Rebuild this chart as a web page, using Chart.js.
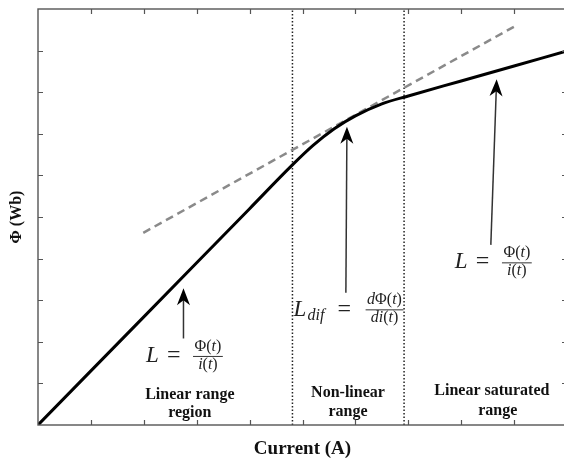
<!DOCTYPE html>
<html>
<head>
<meta charset="utf-8">
<script src="https://cdn.jsdelivr.net/npm/chart.js@4/dist/chart.umd.min.js"></script>
<style>
  html, body { margin: 0; padding: 0; background: #fff; overflow: hidden; }
  #wrap { width: 570px; height: 460px; }
</style>
</head>
<body>
<div id="wrap"><canvas id="c" width="570" height="460"></canvas></div>
<script>
// Magnetisation curve: flux linkage against current
const currentA = [0, 1, 2, 3, 4, 4.8, 5.2, 5.6, 6, 6.5, 7, 8, 9, 10];
const fluxWb   = [0, 1.3, 2.6, 3.9, 5.2, 6.24, 6.72, 7.12, 7.43, 7.72, 7.91, 8.27, 8.63, 8.99];

// Tangent (differential inductance) line through the knee
const tangentX = [1.99, 9.02];
const tangentY = [4.62, 9.59];

// Boundaries between the three operating ranges
const boundaryX = [4.81, 6.92];
const axisMin = 0, axisMax = 10;

// Arrows pointing at the curve: tip and tail in axis units
const arrowTipX  = [2.75, 5.84, 8.67];
const arrowTipY  = [3.29, 7.17, 8.31];
const arrowTailX = [2.75, 5.82, 8.56];
const arrowTailY = [2.08, 3.18, 4.33];

// Inductance formulas: left edge and centre line in axis units
const formulaX = [2.04, 4.83, 7.88];
const formulaY = [1.66, 2.78, 3.91];

// Range names
const rangeNames = [["Linear range", "region"], ["Non-linear", "range"], ["Linear saturated", "range"]];
const rangeX = [[2.87, 2.87], [5.86, 5.86], [8.58, 8.69]];
const rangeY = [[0.72, 0.28], [0.77, 0.31], [0.81, 0.35]];

const pts = (xs, ys) => xs.map((x, i) => ({ x, y: ys[i] }));

const SERIF = '"Liberation Serif", "Times New Roman", serif';

function drawRuns(ctx, runs, x, y) {
  // runs: [text, fontString]
  let cx = x;
  for (const [t, f] of runs) {
    ctx.font = f;
    ctx.fillText(t, cx, y);
    cx += ctx.measureText(t).width;
  }
  return cx - x;
}
function runsWidth(ctx, runs) {
  let w = 0;
  for (const [t, f] of runs) { ctx.font = f; w += ctx.measureText(t).width; }
  return w;
}
function drawFraction(ctx, num, den, cx, cy) {
  const wn = runsWidth(ctx, num), wd = runsWidth(ctx, den);
  const w = Math.max(wn, wd) + 3;
  drawRuns(ctx, num, cx - wn / 2, cy - 5);
  drawRuns(ctx, den, cx - wd / 2, cy + 13);
  ctx.save();
  ctx.lineWidth = 1;
  ctx.strokeStyle = '#333';
  ctx.beginPath();
  ctx.moveTo(cx - w / 2, cy + 0.5);
  ctx.lineTo(cx + w / 2, cy + 0.5);
  ctx.stroke();
  ctx.restore();
}

const decorPlugin = {
  id: 'decor',
  afterDatasetsDraw(chart) {
    const { ctx, chartArea: a, scales: { x, y } } = chart;
    ctx.save();

    // frame
    ctx.strokeStyle = '#555';
    ctx.lineWidth = 1.4;
    ctx.strokeRect(a.left, a.top, a.right - a.left, a.bottom - a.top);

    // inward ticks on every side
    const tl = 5;
    ctx.beginPath();
    for (let v = axisMin + 1; v < axisMax; v++) {
      const px = Math.round(x.getPixelForValue(v)) + 0.5;
      ctx.moveTo(px, a.bottom); ctx.lineTo(px, a.bottom - tl);
      ctx.moveTo(px, a.top); ctx.lineTo(px, a.top + tl);
      const py = Math.round(y.getPixelForValue(v)) + 0.5;
      ctx.moveTo(a.left, py); ctx.lineTo(a.left + tl, py);
      ctx.moveTo(a.right, py); ctx.lineTo(a.right - tl, py);
    }
    ctx.lineWidth = 1.2;
    ctx.stroke();

    // arrows
    for (let i = 0; i < arrowTipX.length; i++) {
      const tx = x.getPixelForValue(arrowTipX[i]), ty = y.getPixelForValue(arrowTipY[i]);
      const bx = x.getPixelForValue(arrowTailX[i]), by = y.getPixelForValue(arrowTailY[i]);
      const ang = Math.atan2(by - ty, bx - tx);
      const ux = Math.cos(ang), uy = Math.sin(ang);
      const nx = -uy, ny = ux;
      ctx.strokeStyle = '#333';
      ctx.lineWidth = 1.5;
      ctx.beginPath();
      ctx.moveTo(tx + ux * 10, ty + uy * 10);
      ctx.lineTo(bx, by);
      ctx.stroke();
      const L = 17, H = 6.5, N = 12;
      ctx.fillStyle = '#000';
      ctx.beginPath();
      ctx.moveTo(tx, ty);
      ctx.lineTo(tx + ux * L + nx * H, ty + uy * L + ny * H);
      ctx.lineTo(tx + ux * N, ty + uy * N);
      ctx.lineTo(tx + ux * L - nx * H, ty + uy * L - ny * H);
      ctx.closePath();
      ctx.fill();
    }

    // formulas
    const big = `italic 23px ${SERIF}`, bigUp = `24px ${SERIF}`;
    const sm = `16px ${SERIF}`, smI = `italic 16px ${SERIF}`;
    const sub = `italic 16px ${SERIF}`;
    ctx.fillStyle = '#222';
    ctx.textBaseline = 'alphabetic';
    ctx.textAlign = 'left';
    const numL = [['Φ(', sm], ['t', smI], [')', sm]];
    const denL = [['i', smI], ['(', sm], ['t', smI], [')', sm]];
    [0, 2].forEach(i => {
      const lx = x.getPixelForValue(formulaX[i]), ay = y.getPixelForValue(formulaY[i]);
      drawRuns(ctx, [['L', big]], lx, ay + 6);
      drawRuns(ctx, [['=', bigUp]], lx + 21, ay + 6);
      drawFraction(ctx, numL, denL, lx + 62, ay);
    });
    {
      const lx = x.getPixelForValue(formulaX[1]), ay = y.getPixelForValue(formulaY[1]);
      drawRuns(ctx, [['L', big]], lx, ay + 7);
      drawRuns(ctx, [['dif', sub]], lx + 14, ay + 11);
      drawRuns(ctx, [['=', bigUp]], lx + 44, ay + 7);
      drawFraction(ctx,
        [['d', smI], ['Φ(', sm], ['t', smI], [')', sm]],
        [['di', smI], ['(', sm], ['t', smI], [')', sm]],
        lx + 91, ay);
    }

    // range names
    ctx.fillStyle = '#111';
    ctx.textAlign = 'center';
    ctx.textBaseline = 'middle';
    ctx.font = `bold 16px ${SERIF}`;
    rangeNames.forEach((lines, i) => {
      lines.forEach((t, j) => {
        ctx.fillText(t, x.getPixelForValue(rangeX[i][j]), y.getPixelForValue(rangeY[i][j]));
      });
    });
    ctx.restore();
  }
};

const datasets = [
  {
    data: pts(currentA, fluxWb),
    borderColor: '#000',
    borderWidth: 3,
    pointRadius: 0,
    cubicInterpolationMode: 'monotone',
    order: 0
  },
  {
    data: pts(tangentX, tangentY),
    borderColor: '#8a8a8a',
    borderWidth: 2.5,
    borderDash: [8, 5],
    pointRadius: 0,
    order: 1
  }
];
boundaryX.forEach(bx => datasets.push({
  data: pts([bx, bx], [axisMin, axisMax]),
  borderColor: '#222',
  borderWidth: 1.5,
  borderDash: [1.5, 2],
  pointRadius: 0,
  order: 2
}));

new Chart(document.getElementById('c'), {
  type: 'line',
  data: { datasets },
  options: {
    responsive: false,
    animation: false,
    events: [],
    layout: { padding: { top: 9, right: 3, bottom: 0, left: 0 } },
    plugins: { legend: { display: false }, tooltip: { enabled: false } },
    scales: {
      x: {
        type: 'linear', min: axisMin, max: axisMax,
        ticks: { display: false },
        grid: { display: false, drawTicks: false },
        border: { display: false },
        title: {
          display: true, text: 'Current (A)', color: '#111',
          font: { family: SERIF, size: 19, weight: 'bold', lineHeight: '20px' },
          padding: { top: 14, bottom: 1 }
        }
      },
      y: {
        type: 'linear', min: axisMin, max: axisMax,
        ticks: { display: false },
        grid: { display: false, drawTicks: false },
        border: { display: false },
        title: {
          display: true, text: 'Φ (Wb)', color: '#111',
          font: { family: SERIF, size: 16, weight: 'bold', lineHeight: '20px' },
          padding: { top: 7, bottom: 11 }
        }
      }
    }
  },
  plugins: [decorPlugin]
});
</script>
</body>
</html>
